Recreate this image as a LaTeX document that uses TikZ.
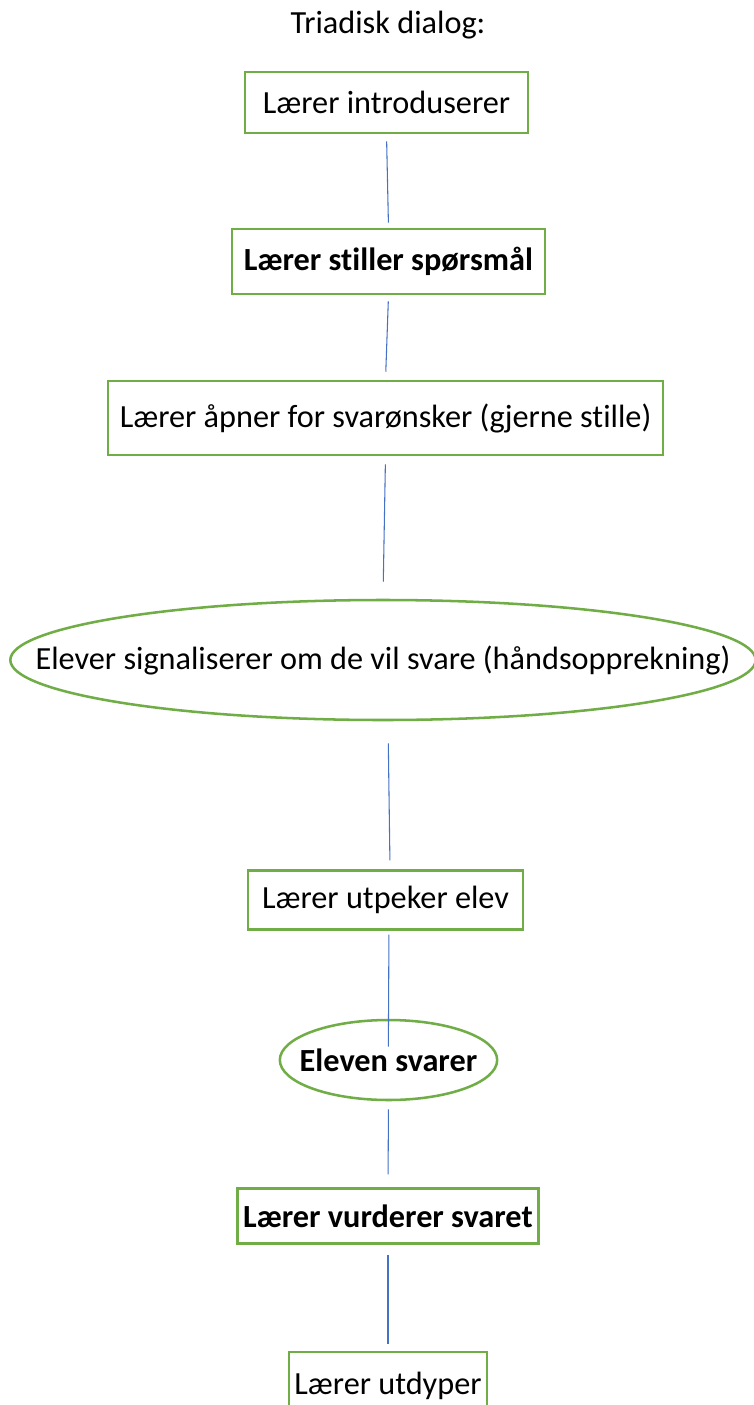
\documentclass[tikz,border=0pt]{standalone}
\usepackage{fontspec}
\setmainfont{Carlito}[Ligatures=NoCommon]
\usetikzlibrary{shapes.geometric}

\definecolor{boxgreen}{RGB}{112,173,71}
\definecolor{linkblue}{RGB}{68,114,196}

\begin{document}
\begin{tikzpicture}[x=0.75pt, y=-0.75pt,
    every node/.style={font=\fontsize{24.2}{29}\selectfont},
    stepbox/.style={draw=boxgreen, line width=1.9pt, fill=white, inner sep=0pt},
    stepoval/.style={draw=boxgreen, line width=1.9pt, ellipse, inner sep=-80pt},
    link/.style={draw=linkblue, line width=0.8pt}]
    \useasboundingbox (0,0) rectangle (753,1405);

    % Title
    \node (title) at (388,25) {Triadisk dialog:};

    % Teacher introduces
    \node[stepbox, minimum width=212pt, minimum height=46pt] (intro) at (386.5,102.5) {Lærer introduserer};

    % Teacher asks
    \node[stepbox, minimum width=235pt, minimum height=49pt] (ask) at (388.5,261.5) {\textbf{Lærer stiller spørsmål}};

    % Teacher opens for answers
    \node[stepbox, minimum width=416pt, minimum height=55.5pt] (open) at (385.5,418) {Lærer åpner for svarønsker (gjerne stille)};

    % Pupils signal
    \node[stepoval, minimum width=559pt, minimum height=90pt] (signal) at (383,660) {Elever signaliserer om de vil svare (håndsopprekning)};

    % Teacher picks pupil
    \node[stepbox, minimum width=206pt, minimum height=44pt] (pick) at (385.5,900) {Lærer utpeker elev};

    % Pupil answers
    \node[stepoval, minimum width=163pt, minimum height=60pt] (answer) at (388.5,1060) {\textbf{Eleven svarer}};

    % Teacher evaluates
    \node[stepbox, minimum width=226pt, minimum height=41pt] (judge) at (388,1216) {\textbf{Lærer vurderer svaret}};

    % Teacher elaborates
    \node[stepbox, minimum width=148.5pt, minimum height=51pt] (extend) at (388,1386) {Lærer utdyper};

    % Links
    \draw[link, shorten <=5.25pt, shorten >=3.75pt] (intro.south) -- (ask.north);
    \draw[link, shorten <=4.5pt, shorten >=6pt] (ask.south) -- (open.north);
    \draw[link, shorten <=6pt, shorten >=12.75pt] (open.south) -- (signal.north);
    \draw[link, shorten <=16.5pt, shorten >=6.75pt] ([xshift=3.75pt]signal.south) -- ([xshift=3.4pt]pick.north);
    \draw[link, shorten <=3pt, shorten >=-21pt] ([xshift=2.6pt]pick.south) -- (answer.north);
    \draw[link, shorten <=6pt, shorten >=9.75pt] (answer.south) -- (judge.north);
    \draw[link, shorten <=7.5pt, shorten >=5.25pt] (judge.south) -- (extend.north);

\end{tikzpicture}
\end{document}
